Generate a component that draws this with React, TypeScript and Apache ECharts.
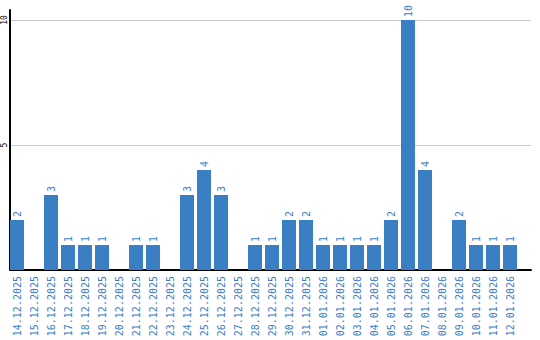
import React, { useEffect, useRef } from "react";
import * as echarts from "echarts";

const categories = [
  "14.12.2025", "15.12.2025", "16.12.2025", "17.12.2025", "18.12.2025",
  "19.12.2025", "20.12.2025", "21.12.2025", "22.12.2025", "23.12.2025",
  "24.12.2025", "25.12.2025", "26.12.2025", "27.12.2025", "28.12.2025",
  "29.12.2025", "30.12.2025", "31.12.2025", "01.01.2026", "02.01.2026",
  "03.01.2026", "04.01.2026", "05.01.2026", "06.01.2026", "07.01.2026",
  "08.01.2026", "09.01.2026", "10.01.2026", "11.01.2026", "12.01.2026",
];
const values = [
  2, 0, 3, 1, 1, 1, 0, 1, 1, 0,
  3, 4, 3, 0, 1, 1, 2, 2, 1, 1,
  1, 1, 2, 10, 4, 0, 2, 1, 1, 1,
];
const yTicks = [5, 10];

const BLUE = "#3a7ec4";
const FONT = "DejaVu Sans Mono";
const Y_MAX = 10.4;

export default function App() {
  const ref = useRef<HTMLDivElement>(null);
  useEffect(() => {
    if (!ref.current) return;
    const chart = echarts.init(ref.current, null, { renderer: "svg" });
    chart.setOption({
      animation: false,
      grid: [
        { left: 8.5, right: 21.5, top: 10, bottom: 70 },
        { left: 10, right: 9, top: 10, bottom: 70 },
      ],
      xAxis: [
        {
          type: "category",
          gridIndex: 0,
          data: categories,
          axisLine: { show: false },
          axisTick: { show: false },
          axisLabel: {
            rotate: 90,
            interval: 0,
            color: BLUE,
            fontFamily: FONT,
            fontSize: 10,
            margin: 6,
          },
        },
        {
          type: "value",
          gridIndex: 1,
          min: 0,
          max: 1,
          axisLine: { show: true, lineStyle: { color: "#000", width: 2 } },
          axisTick: { show: false },
          axisLabel: { show: false },
          splitLine: { show: false },
        },
      ],
      yAxis: [
        {
          type: "value",
          gridIndex: 0,
          min: 0,
          max: Y_MAX,
          show: false,
          splitLine: { show: false },
        },
        {
          type: "value",
          gridIndex: 1,
          min: 0,
          max: Y_MAX,
          interval: 5,
          axisLine: { show: true, lineStyle: { color: "#000", width: 2 } },
          axisTick: { show: false },
          splitLine: {
            show: true,
            lineStyle: { color: ["#cccccc", "#cccccc", "#cccccc", "rgba(0,0,0,0)"], width: 1 },
          },
          axisLabel: {
            rotate: 90,
            align: "center",
            verticalAlign: "bottom",
            color: "#000",
            fontFamily: FONT,
            fontSize: 8,
            margin: 2,
            formatter: (v: number) => (yTicks.includes(v) ? String(v) : ""),
          },
        },
      ],
      series: [
        {
          type: "bar",
          xAxisIndex: 0,
          yAxisIndex: 0,
          data: values,
          barWidth: 14,
          itemStyle: { color: BLUE },
          label: {
            show: true,
            position: "top",
            rotate: 90,
            align: "left",
            verticalAlign: "middle",
            distance: 3,
            color: BLUE,
            fontFamily: FONT,
            fontSize: 10,
            formatter: (p: any) => (p.value > 0 ? String(p.value) : ""),
          },
        },
      ],
    });
    return () => chart.dispose();
  }, []);
  return <div ref={ref} style={{ width: 540, height: 340, position: "absolute", left: 0, top: 0 }} />;
}
